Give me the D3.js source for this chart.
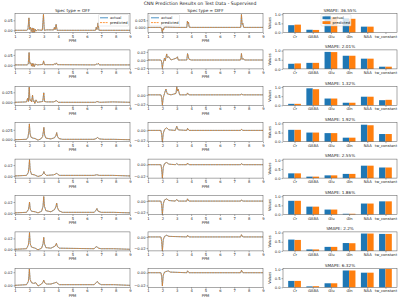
<!DOCTYPE html>
<html>
<head>
<meta charset="utf-8">
<script src="https://cdn.jsdelivr.net/npm/d3@7"></script>
<style>
body { margin: 0; background: #fff; }
svg { font-family: "DejaVu Sans", sans-serif; }
.axis path, .axis line { stroke: #555; stroke-width: 0.5; }
.axis text { fill: #222; font-size: 3.7px; font-family: "DejaVu Sans", sans-serif; }
</style>
</head>
<body>
<div id="root"></div>
<script>
// ---- data ----
var categories = ["Cr", "GABA", "Glu", "Gln", "NAA", "tw_constant"];
var smapeLabels = ["SMAPE: 36.55%", "SMAPE: 2.01%", "SMAPE: 1.32%", "SMAPE: 1.92%",
    "SMAPE: 2.55%", "SMAPE: 1.86%", "SMAPE: 2.2%", "SMAPE: 6.32%"];

var actualValues = [
    [0.40, 0.15, 0.93, 0.78, 0.32, 0.00],
    [0.28, 0.33, 0.93, 0.72, 0.56, 0.12],
    [0.08, 0.93, 0.37, 0.14, 0.47, 0.28],
    [0.65, 0.50, 0.47, 0.22, 0.93, 0.42],
    [0.26, 0.08, 0.15, 0.23, 0.68, 0.58],
    [0.75, 0.43, 0.27, 0.04, 0.60, 0.72],
    [0.62, 0.08, 0.22, 0.43, 0.95, 0.93],
    [0.35, 0.05, 0.22, 0.92, 0.80, 1.00]
];
var predictedValues = [
    [0.43, 0.14, 0.85, 0.75, 0.32, 0.00],
    [0.30, 0.33, 0.92, 0.72, 0.56, 0.12],
    [0.08, 0.88, 0.37, 0.14, 0.47, 0.30],
    [0.65, 0.50, 0.47, 0.22, 0.90, 0.42],
    [0.26, 0.08, 0.15, 0.23, 0.68, 0.58],
    [0.75, 0.43, 0.27, 0.04, 0.60, 0.72],
    [0.60, 0.08, 0.22, 0.42, 0.95, 0.93],
    [0.35, 0.06, 0.22, 0.92, 0.80, 1.00]
];
var barTicks = [0, 0.5, 1.0];
var barDomain = [0, 1.04];

var ppmTicks = [1, 2, 3, 4, 5, 6, 7, 8, 9];

var offYDomains = [[-0.011, 0.084], [-0.02, 0.075], [-0.0075, 0.04], [-0.005, 0.043],
    [-0.004, 0.031], [-0.003, 0.032], [-0.003, 0.032], [-0.003, 0.026]];
var offYTicks = [[0, 0.05], [0, 0.05], [0, 0.025], [0, 0.025],
    [0, 0.02], [0, 0.02], [0, 0.02], [0, 0.02]];
var diffYDomains = [[-0.018, 0.049], [-0.022, 0.025], [-0.022, 0.018], [-0.022, 0.015],
    [-0.024, 0.01], [-0.024, 0.01], [-0.025, 0.009], [-0.023, 0.007]];
var diffYTicks = [[0, 0.025], [-0.02, 0, 0.02], [-0.02, 0, 0.02], [-0.02, 0, 0.02],
    [-0.02, 0, 0.02], [-0.02, 0, 0.02], [-0.02, 0, 0.02], [-0.02, 0, 0.02]];

// [ppm, value] pairs, "OFF" spectra
var offSpectra = [
    [[1,0],[1.8,0],[1.9,0.004],[1.97,0.062],[2.02,0.004],[2.08,0.015],[2.13,-0.006],[2.2,0.012],[2.25,-0.012],[2.3,0.01],[2.35,-0.01],[2.4,0.006],[2.45,-0.004],[2.55,0.002],[2.9,0],[2.98,0.08],[3.04,0],[3.2,0.002],[3.7,0.002],[3.74,0.015],[3.79,0.003],[3.86,0.03],[3.93,0],[4.1,0],[6.6,0],[6.65,0.015],[6.7,0.004],[6.78,0.037],[6.84,0],[9,0]],
    [[1,0],[1.85,0],[1.92,0.004],[1.98,0.062],[2.03,0.006],[2.1,0.01],[2.15,-0.006],[2.2,0.008],[2.25,-0.008],[2.3,0.006],[2.35,-0.008],[2.42,0.004],[2.55,0],[2.93,0.002],[2.99,0.02],[3.05,0.001],[3.7,0.001],[3.75,0.006],[3.8,0.002],[3.88,0.01],[3.95,0.001],[6.6,0],[6.66,0.005],[6.72,0.002],[6.8,0.008],[6.86,0],[9,0]],
    [[1,0],[1.8,0.001],[1.88,0.01],[1.93,0.002],[1.99,0.038],[2.04,0.004],[2.1,0.006],[2.15,0.001],[2.22,0.018],[2.27,0.002],[2.32,0.004],[2.38,-0.003],[2.46,0.006],[2.55,0],[2.93,0.002],[3.0,0.024],[3.06,0.002],[3.2,0.001],[3.72,0.001],[3.78,0.003],[3.9,0.004],[4.0,0],[6.6,0],[6.7,0.002],[6.8,0.001],[6.9,0],[7.8,0.001],[9,0]],
    [[1,0],[1.8,0.001],[1.9,0.006],[1.96,0.02],[2.0,0.04],[2.05,0.015],[2.12,0.006],[2.25,0.004],[2.4,0.003],[2.6,-0.001],[2.8,0.002],[2.92,0.008],[2.97,0.02],[3.01,0.031],[3.06,0.012],[3.15,0.004],[3.5,0.002],[3.75,0.005],[3.85,0.011],[3.9,0.018],[3.95,0.009],[4.05,0.003],[4.3,0.001],[6.5,0.001],[6.65,0.003],[6.75,0.006],[6.85,0.002],[7.2,0.001],[7.85,0.001],[9,0]],
    [[1,0],[1.8,0.001],[1.92,0.006],[1.97,0.016],[2.01,0.03],[2.06,0.01],[2.15,0.003],[2.35,0.002],[2.6,-0.001],[2.85,0.001],[2.96,0.004],[3.01,0.008],[3.06,0.004],[3.2,0.001],[3.7,0.002],[3.85,0.004],[3.9,0.005],[3.97,0.003],[4.1,0.001],[6.5,0.001],[6.65,0.002],[6.72,0.002],[6.85,0.001],[7.8,0.001],[9,0]],
    [[1,0],[1.8,0.001],[1.93,0.006],[1.98,0.013],[2.01,0.02],[2.06,0.007],[2.15,0.003],[2.4,0.002],[2.6,0],[2.85,0.003],[2.95,0.012],[3.0,0.03],[3.05,0.012],[3.15,0.004],[3.5,0.002],[3.75,0.006],[3.85,0.012],[3.9,0.018],[3.95,0.01],[4.05,0.004],[4.3,0.001],[6.5,0.001],[6.62,0.004],[6.7,0.008],[6.78,0.003],[7.0,0.001],[7.85,0.001],[9,0]],
    [[1,0],[1.8,0.001],[1.93,0.008],[1.98,0.02],[2.01,0.031],[2.06,0.01],[2.15,0.004],[2.4,0.002],[2.6,-0.001],[2.85,0.002],[2.95,0.01],[3.0,0.022],[3.05,0.01],[3.15,0.003],[3.5,0.002],[3.8,0.006],[3.88,0.011],[3.95,0.005],[4.1,0.002],[6.5,0.001],[6.62,0.004],[6.7,0.005],[6.8,0.002],[7.0,0.001],[7.85,0.001],[9,0]],
    [[1,0],[1.8,0.001],[1.93,0.006],[1.97,0.015],[2.0,0.025],[2.05,0.009],[2.15,0.004],[2.3,0.003],[2.45,0.004],[2.6,-0.001],[2.85,0.002],[2.95,0.005],[3.0,0.008],[3.06,0.004],[3.2,0.002],[3.5,0.002],[3.8,0.004],[3.88,0.005],[3.95,0.003],[4.1,0.001],[6.5,0.001],[6.65,0.004],[6.73,0.006],[6.82,0.003],[7.0,0.001],[7.85,0.001],[9,0]]
];

// [ppm, value] pairs, "DIFF" spectra
var diffSpectra = [
    [[1,0],[1.9,0],[1.95,-0.006],[2.0,-0.02],[2.04,-0.004],[2.08,-0.009],[2.12,0],[2.2,0.001],[3.0,0],[3.7,0],[3.74,0.022],[3.78,0.014],[3.82,0.018],[3.86,0.001],[4.0,0],[7.45,0],[7.5,0.046],[7.55,0.01],[7.6,0.014],[7.65,0],[9,0]],
    [[1,0],[1.9,0],[1.95,-0.005],[2.0,-0.021],[2.05,-0.008],[2.15,0.005],[2.2,-0.002],[2.3,0.015],[2.35,0.006],[2.45,0.008],[2.6,0],[3.0,0.005],[3.05,0.008],[3.1,0],[3.7,0],[3.75,0.016],[3.85,0.002],[4.0,0],[7.45,0],[7.5,0.016],[7.55,0.002],[7.65,0.003],[7.7,0],[9,0]],
    [[1,0],[1.9,0],[1.95,-0.006],[2.0,-0.022],[2.06,-0.006],[2.15,0.003],[2.2,0.008],[2.25,0.012],[2.3,0.006],[2.35,0.002],[2.6,0],[2.95,0.003],[3.0,0.017],[3.05,0.008],[3.1,0.012],[3.2,0],[3.7,0],[3.75,0.004],[3.85,0],[7.45,0],[7.5,0.002],[7.6,0],[9,0]],
    [[1,0],[1.9,0],[1.95,-0.008],[2.0,-0.024],[2.06,-0.006],[2.15,0.002],[2.3,0.005],[2.45,0.001],[2.9,0],[3.0,0.008],[3.1,0.001],[3.7,0],[3.75,0.004],[3.85,0],[7.45,0],[7.5,0.002],[7.6,0],[9,0]],
    [[1,0],[1.9,0],[1.95,-0.008],[2.0,-0.024],[2.06,-0.005],[2.15,0.002],[2.3,0.004],[2.45,0.001],[2.9,0],[3.0,0.002],[3.1,0],[3.7,0],[3.75,0.003],[3.85,0],[7.45,0],[7.5,0.002],[7.6,0],[9,0]],
    [[1,0],[1.9,0],[1.95,-0.008],[2.0,-0.025],[2.06,-0.005],[2.15,0.002],[2.3,0.004],[2.45,0.001],[2.9,0],[3.0,0.003],[3.1,0],[3.7,0],[3.75,0.004],[3.85,0],[7.45,0],[7.5,0.002],[7.6,0],[9,0]],
    [[1,0],[1.9,0],[1.95,-0.008],[2.0,-0.026],[2.06,-0.005],[2.15,0.001],[2.3,0.003],[2.45,0.001],[3.7,0],[3.75,0.003],[3.85,0],[7.45,0],[7.5,0.004],[7.6,0],[9,0]],
    [[1,0],[1.9,0],[1.95,-0.006],[2.0,-0.021],[2.06,-0.004],[2.15,0.001],[2.4,0.003],[2.55,0.001],[3.7,0],[3.75,0.003],[3.85,0],[7.45,0],[7.5,0.004],[7.6,0],[9,0]]
];
// predicted traces sit on top of the actual ones at this size
var offPredicted = offSpectra;
var diffPredicted = diffSpectra;

// ---- layout ----
var width = 400, height = 300;
var rowH = 19;
var rowTop = function (k) { return 13.5 + 36.4 * k; };
var colSpecOff = [15, 130], colSpecDiff = [148, 263], colBar = [283, 397];
var blue = "#1f77b4", orange = "#ff7f0e";

var svg = d3.select("#root")
    .append("svg")
    .attr("width", width)
    .attr("height", height);

svg.append("rect").attr("width", width).attr("height", height).attr("fill", "#fff");

svg.append("text")
    .attr("x", 200).attr("y", 5)
    .attr("text-anchor", "middle")
    .attr("font-size", "4.6px")
    .attr("fill", "#222")
    .text("CNN Prediction Results on Test Data - Supervised");

function fmtFor(ticks) {
    var three = ticks.some(function (t) { return Math.abs(t * 100 - Math.round(t * 100)) > 1e-9; });
    return d3.format(three ? ".3f" : ".2f");
}

function styleAxis(g) {
    g.attr("font-size", null).attr("font-family", null);
    g.select(".domain").remove();
}

var clipId = 0;
function specPanel(cols, y0, domain, ticks, actual, pred) {
    var x = d3.scaleLinear().domain([1, 9]).range(cols);
    var y = d3.scaleLinear().domain(domain).range([y0 + rowH, y0]);
    var g = svg.append("g");
    var id = "clip" + (clipId++);
    g.append("clipPath").attr("id", id)
        .append("rect")
        .attr("x", cols[0]).attr("y", y0)
        .attr("width", cols[1] - cols[0]).attr("height", rowH);

    var line = d3.line()
        .x(function (d) { return x(d[0]); })
        .y(function (d) { return y(d[1]); });

    var lines = g.append("g").attr("clip-path", "url(#" + id + ")");
    lines.append("path").datum(actual)
        .attr("d", line).attr("fill", "none")
        .attr("stroke", blue).attr("stroke-width", 0.7);
    lines.append("path").datum(pred)
        .attr("d", line).attr("fill", "none")
        .attr("stroke", orange).attr("stroke-width", 0.7)
        .attr("stroke-dasharray", "2,0.6");

    g.append("g").attr("class", "axis")
        .attr("transform", "translate(0," + (y0 + rowH) + ")")
        .call(d3.axisBottom(x).tickValues(ppmTicks).tickFormat(d3.format("d")).tickSize(1.5).tickPadding(1))
        .call(styleAxis);
    g.append("g").attr("class", "axis")
        .attr("transform", "translate(" + cols[0] + ",0)")
        .call(d3.axisLeft(y).tickValues(ticks.filter(function (t) { return t >= domain[0] && t <= domain[1]; }))
            .tickFormat(fmtFor(ticks)).tickSize(1.5).tickPadding(1))
        .call(styleAxis);

    g.append("rect")
        .attr("x", cols[0]).attr("y", y0)
        .attr("width", cols[1] - cols[0]).attr("height", rowH)
        .attr("fill", "none").attr("stroke", "#555").attr("stroke-width", 0.5);

    g.append("text")
        .attr("x", (cols[0] + cols[1]) / 2).attr("y", y0 + rowH + 9.5)
        .attr("text-anchor", "middle").attr("font-size", "3.7px").attr("fill", "#222")
        .text("PPM");
    return g;
}

function barPanel(k, y0) {
    var x = d3.scaleLinear().domain([-0.635, 5.635]).range(colBar);
    var y = d3.scaleLinear().domain(barDomain).range([y0 + rowH, y0]);
    var bw = 0.35;
    var g = svg.append("g");

    g.selectAll(".a").data(actualValues[k]).enter().append("rect")
        .attr("x", function (d, i) { return x(i - bw); })
        .attr("y", function (d) { return y(d); })
        .attr("width", x(bw) - x(0))
        .attr("height", function (d) { return y(0) - y(d); })
        .attr("fill", blue);
    g.selectAll(".p").data(predictedValues[k]).enter().append("rect")
        .attr("x", function (d, i) { return x(i); })
        .attr("y", function (d) { return y(d); })
        .attr("width", x(bw) - x(0))
        .attr("height", function (d) { return y(0) - y(d); })
        .attr("fill", orange);

    g.append("g").attr("class", "axis")
        .attr("transform", "translate(0," + (y0 + rowH) + ")")
        .call(d3.axisBottom(x).tickValues(d3.range(categories.length))
            .tickFormat(function (i) { return categories[i]; }).tickSize(1.5).tickPadding(1))
        .call(styleAxis);
    g.append("g").attr("class", "axis")
        .attr("transform", "translate(" + colBar[0] + ",0)")
        .call(d3.axisLeft(y).tickValues(barTicks).tickFormat(d3.format(".1f")).tickSize(1.5).tickPadding(1))
        .call(styleAxis);

    g.append("rect")
        .attr("x", colBar[0]).attr("y", y0)
        .attr("width", colBar[1] - colBar[0]).attr("height", rowH)
        .attr("fill", "none").attr("stroke", "#555").attr("stroke-width", 0.5);

    g.append("text")
        .attr("transform", "translate(271," + (y0 + rowH / 2) + ") rotate(-90)")
        .attr("text-anchor", "middle").attr("font-size", "3.7px").attr("fill", "#222")
        .text("Values");

    g.append("text")
        .attr("x", (colBar[0] + colBar[1]) / 2).attr("y", y0 - 1.8)
        .attr("text-anchor", "middle").attr("font-size", "4.2px").attr("fill", "#222")
        .text(smapeLabels[k]);
    return g;
}

function lineLegend(x0, y0) {
    var g = svg.append("g");
    g.append("rect").attr("x", x0).attr("y", y0).attr("width", 30).attr("height", 11.5)
        .attr("fill", "#fff").attr("fill-opacity", 0.8)
        .attr("stroke", "#ccc").attr("stroke-width", 0.4).attr("rx", 0.8);
    [["actual", blue, null], ["predicted", orange, "2,0.8"]].forEach(function (e, i) {
        var yy = y0 + 3.3 + i * 4.8;
        g.append("line").attr("x1", x0 + 1.5).attr("x2", x0 + 9.5)
            .attr("y1", yy).attr("y2", yy)
            .attr("stroke", e[1]).attr("stroke-width", 0.8)
            .attr("stroke-dasharray", e[2]);
        g.append("text").attr("x", x0 + 11.5).attr("y", yy + 1.3)
            .attr("font-size", "3.7px").attr("fill", "#222").text(e[0]);
    });
}

function barLegend(x0, y0) {
    var g = svg.append("g");
    g.append("rect").attr("x", x0).attr("y", y0).attr("width", 30).attr("height", 11.5)
        .attr("fill", "#fff").attr("fill-opacity", 0.8)
        .attr("stroke", "#ccc").attr("stroke-width", 0.4).attr("rx", 0.8);
    [["actual", blue], ["predicted", orange]].forEach(function (e, i) {
        var yy = y0 + 3.3 + i * 4.8;
        g.append("rect").attr("x", x0 + 1.5).attr("y", yy - 1.4)
            .attr("width", 8).attr("height", 2.8).attr("fill", e[1]);
        g.append("text").attr("x", x0 + 11.5).attr("y", yy + 1.3)
            .attr("font-size", "3.7px").attr("fill", "#222").text(e[0]);
    });
}

for (var k = 0; k < 8; k++) {
    var rowY = rowTop(k);
    specPanel(colSpecOff, rowY, offYDomains[k], offYTicks[k], offSpectra[k], offPredicted[k]);
    specPanel(colSpecDiff, rowY, diffYDomains[k], diffYTicks[k], diffSpectra[k], diffPredicted[k]);
    barPanel(k, rowY);
}

// row-one titles and legends
svg.append("text").attr("x", (colSpecOff[0] + colSpecOff[1]) / 2).attr("y", rowTop(0) - 1.8)
    .attr("text-anchor", "middle").attr("font-size", "4.2px").attr("fill", "#222")
    .text("Spec type = OFF");
svg.append("text").attr("x", (colSpecDiff[0] + colSpecDiff[1]) / 2).attr("y", rowTop(0) - 1.8)
    .attr("text-anchor", "middle").attr("font-size", "4.2px").attr("fill", "#222")
    .text("Spec type = DIFF");

lineLegend(98.5, rowTop(0) + 1);
lineLegend(149.5, rowTop(0) + 1);
barLegend(321, rowTop(0) + 1);
</script>
</body>
</html>
